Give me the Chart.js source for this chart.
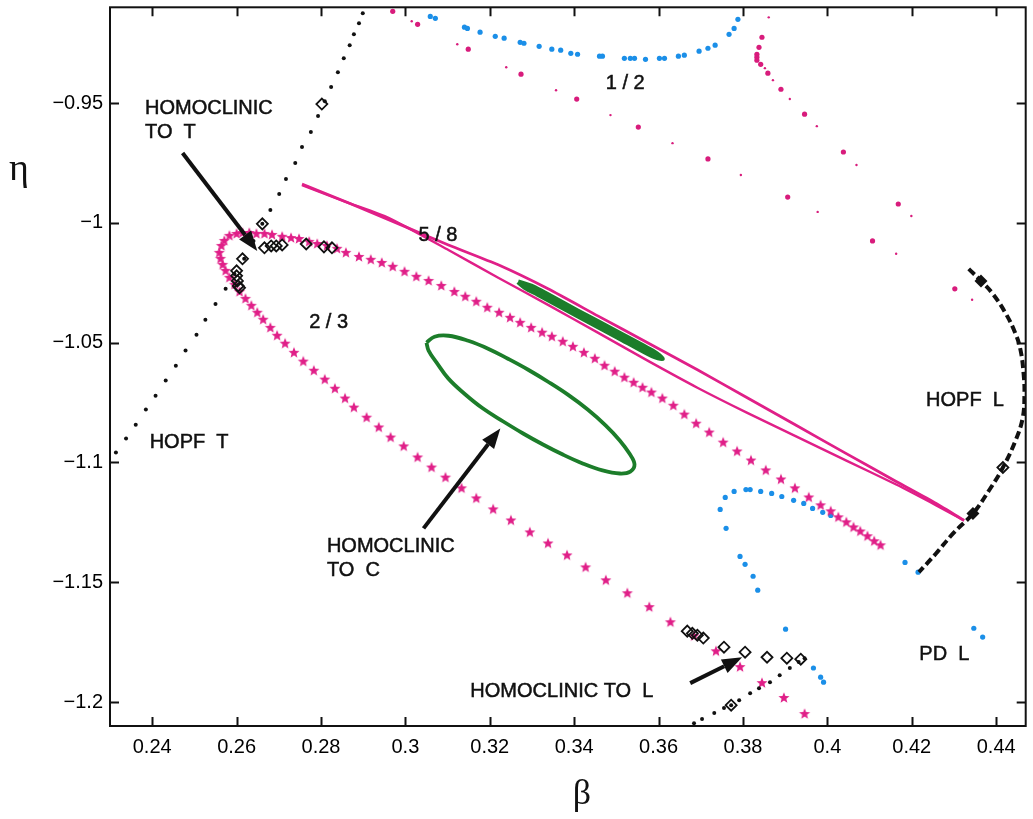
<!DOCTYPE html>
<html>
<head>
<meta charset="utf-8">
<title>Bifurcation diagram in the (β, η) plane</title>
<script src="https://cdn.jsdelivr.net/npm/chart.js@4.4.1/dist/chart.umd.min.js"></script>
<style>
  html, body { margin: 0; padding: 0; background: #ffffff; }
  #wrap { width: 1033px; height: 819px; }
</style>
</head>
<body>
<div id="wrap"><canvas id="c" width="1033" height="819"></canvas></div>
<script>
// ---- axis ticks ----
const xTicks = [0.24, 0.26, 0.28, 0.30, 0.32, 0.34, 0.36, 0.38, 0.40, 0.42, 0.44];
const xTickLabels = ['0.24', '0.26', '0.28', '0.3', '0.32', '0.34', '0.36', '0.38', '0.4', '0.42', '0.44'];
const yTicks = [-1.20, -1.15, -1.10, -1.05, -1.00, -0.95];
const yTickLabels = ['\u22121.2', '\u22121.15', '\u22121.1', '\u22121.05', '\u22121', '\u22120.95'];

// ---- Hopf curve of T (black dots) ----
const hopfTBeta = [0.2314, 0.2338, 0.2361, 0.2385, 0.2408, 0.2432, 0.2456, 0.2479, 0.2505, 0.2526,
  0.2550, 0.2574, 0.2595, 0.2618, 0.2640, 0.2661, 0.2680, 0.2701, 0.2717, 0.2739, 0.2755, 0.2776,
  0.2793, 0.2809, 0.2824, 0.2840, 0.2854, 0.2868, 0.2878, 0.2890, 0.2899];
const hopfTEta = [-1.0958, -1.0900, -1.0842, -1.0779, -1.0721, -1.0658, -1.0596, -1.0533, -1.0467, -1.0404,
  -1.0338, -1.0275, -1.0213, -1.0150, -1.0075, -1.0004, -0.9946, -0.9879, -0.9817, -0.9750, -0.9683, -0.9621,
  -0.9554, -0.9492, -0.9433, -0.9371, -0.9313, -0.9258, -0.9213, -0.9167, -0.9125];

// ---- Hopf curve of L (black dashed) ----
const hopfLBeta = [0.4335, 0.4364, 0.4392, 0.4423, 0.4446, 0.4458, 0.4465, 0.4467, 0.4463, 0.4446,
  0.4416, 0.4383, 0.4345, 0.4298, 0.4258, 0.4217];
const hopfLEta = [-1.0192, -1.0242, -1.0296, -1.0379, -1.0463, -1.0533, -1.0629, -1.0713, -1.0813, -1.0908,
  -1.1021, -1.1117, -1.1213, -1.1296, -1.1379, -1.1458];
const hopfLMarkBeta = [0.4364, 0.4345];
const hopfLMarkEta = [-1.0242, -1.1213];

// ---- homoclinic branch near L (black dots) ----
const homLBeta = [0.3684, 0.3703, 0.3732, 0.3755, 0.3772, 0.3791, 0.3817, 0.3838, 0.3864, 0.3887, 0.3911, 0.3932, 0.3946];
const homLEta = [-1.2088, -1.2071, -1.2046, -1.2025, -1.2013, -1.1992, -1.1963, -1.1942, -1.1917, -1.1888, -1.1858, -1.1833, -1.1817];

// ---- homoclinic points (open diamonds) ----
const diamondBeta = [0.2661, 0.2666, 0.2682, 0.2694, 0.2708, 0.2765, 0.2807, 0.2826, 0.2614, 0.2600,
  0.2600, 0.2602, 0.2604, 0.2607, 0.2802,
  0.3668, 0.3680, 0.3692, 0.3706, 0.3755, 0.3805, 0.3857, 0.3904, 0.3937, 0.3772, 0.4416];
const diamondEta = [-1.0004, -1.0104, -1.0096, -1.0096, -1.0092, -1.0088, -1.0100, -1.0104, -1.0150, -1.0200,
  -1.0221, -1.0242, -1.0263, -1.0271, -0.9504,
  -1.1704, -1.1713, -1.1721, -1.1733, -1.1771, -1.1792, -1.1813, -1.1817, -1.1821, -1.2013, -1.1021];

// ---- 2/3 resonance tongue (stars) ----
const loop23Beta = [0.4126, 0.4111, 0.4095, 0.4078, 0.4062, 0.4045, 0.4026, 0.4008, 0.3984, 0.3956,
  0.3923, 0.3890, 0.3854, 0.3819, 0.3786, 0.3753, 0.3720, 0.3689, 0.3661, 0.3635,
  0.3609, 0.3583, 0.3562, 0.3541, 0.3519, 0.3496, 0.3472, 0.3449, 0.3423, 0.3397,
  0.3373, 0.3347, 0.3324, 0.3298, 0.3272, 0.3248, 0.3222, 0.3194, 0.3168, 0.3142,
  0.3116, 0.3085, 0.3055, 0.3026, 0.2998, 0.2970, 0.2944, 0.2918, 0.2890, 0.2859,
  0.2838, 0.2814, 0.2791, 0.2772, 0.2748, 0.2729, 0.2708, 0.2684, 0.2666, 0.2647,
  0.2630, 0.2614, 0.2600, 0.2583, 0.2571, 0.2564, 0.2559, 0.2562, 0.2567, 0.2574,
  0.2583, 0.2595, 0.2607, 0.2621, 0.2635, 0.2649, 0.2663, 0.2680, 0.2696, 0.2715,
  0.2736, 0.2758, 0.2783, 0.2809, 0.2833, 0.2857, 0.2878, 0.2908, 0.2937, 0.2965,
  0.2996, 0.3029, 0.3062, 0.3095, 0.3133, 0.3168, 0.3208, 0.3250, 0.3295, 0.3338,
  0.3383, 0.3427, 0.3475, 0.3526, 0.3578, 0.3628, 0.3684, 0.3736, 0.3793, 0.3845,
  0.3897, 0.3946];
const loop23Eta = [-1.1346, -1.1329, -1.1308, -1.1288, -1.1271, -1.1250, -1.1229, -1.1204, -1.1179, -1.1146,
  -1.1108, -1.1071, -1.1033, -1.0992, -1.0954, -1.0917, -1.0875, -1.0838, -1.0800, -1.0763,
  -1.0733, -1.0708, -1.0688, -1.0667, -1.0646, -1.0621, -1.0596, -1.0567, -1.0542, -1.0517,
  -1.0496, -1.0475, -1.0458, -1.0438, -1.0417, -1.0396, -1.0375, -1.0354, -1.0329, -1.0308,
  -1.0288, -1.0263, -1.0242, -1.0225, -1.0204, -1.0183, -1.0167, -1.0154, -1.0142, -1.0125,
  -1.0108, -1.0096, -1.0088, -1.0079, -1.0067, -1.0063, -1.0058, -1.0050, -1.0046, -1.0046,
  -1.0042, -1.0042, -1.0046, -1.0054, -1.0075, -1.0096, -1.0125, -1.0150, -1.0175, -1.0200,
  -1.0229, -1.0258, -1.0288, -1.0317, -1.0346, -1.0375, -1.0404, -1.0438, -1.0471, -1.0504,
  -1.0542, -1.0579, -1.0617, -1.0654, -1.0692, -1.0733, -1.0771, -1.0813, -1.0854, -1.0896,
  -1.0933, -1.0979, -1.1021, -1.1063, -1.1108, -1.1150, -1.1196, -1.1242, -1.1292, -1.1338,
  -1.1388, -1.1438, -1.1492, -1.1546, -1.1604, -1.1667, -1.1725, -1.1788, -1.1854, -1.1921,
  -1.1983, -1.2050];

// ---- 5/8 resonance tongue (two boundaries) ----
const res58UpperBeta = [0.2755, 0.2866, 0.2984, 0.3102, 0.3220, 0.3338, 0.3456, 0.3574, 0.3692, 0.3809, 0.3927, 0.4045, 0.4163, 0.4258, 0.4324];
const res58UpperEta = [-0.9838, -0.9917, -1.0004, -1.0092, -1.0175, -1.0275, -1.0388, -1.0500, -1.0613, -1.0729, -1.0846, -1.0963, -1.1079, -1.1171, -1.1242];
const res58LowerBeta = [0.2755, 0.2866, 0.2960, 0.3102, 0.3220, 0.3338, 0.3456, 0.3574, 0.3692, 0.3809, 0.3927, 0.4045, 0.4163, 0.4258, 0.4324];
const res58LowerEta = [-0.9842, -0.9917, -0.9979, -1.0113, -1.0229, -1.0342, -1.0458, -1.0575, -1.0688, -1.0792, -1.0892, -1.0992, -1.1092, -1.1179, -1.1242];

// ---- 1/2 resonance (blue dots) ----
const res12Beta = [0.3059, 0.3071, 0.3140, 0.3147, 0.3177, 0.3213, 0.3234, 0.3272, 0.3281, 0.3317,
  0.3347, 0.3368, 0.3392, 0.3408, 0.3460, 0.3467, 0.3519, 0.3533, 0.3543, 0.3569,
  0.3602, 0.3614, 0.3647, 0.3661, 0.3696, 0.3717, 0.3734, 0.3767, 0.3779, 0.3788];
const res12Eta = [-0.9138, -0.9146, -0.9183, -0.9188, -0.9204, -0.9221, -0.9229, -0.9246, -0.9250, -0.9263,
  -0.9275, -0.9279, -0.9292, -0.9296, -0.9304, -0.9304, -0.9313, -0.9313, -0.9313, -0.9317,
  -0.9313, -0.9313, -0.9304, -0.9300, -0.9283, -0.9271, -0.9258, -0.9213, -0.9188, -0.9150];

// ---- period-doubling of L (blue dots) ----
const pdLBeta = [0.4008, 0.3989, 0.3965, 0.3944, 0.3920, 0.3892, 0.3868, 0.3842, 0.3817, 0.3807,
  0.3779, 0.3758, 0.3746, 0.3760, 0.3793, 0.3805, 0.3824, 0.3835, 0.3901, 0.3967,
  0.3984, 0.3991, 0.4184, 0.4215, 0.4347, 0.4368];
const pdLEta = [-1.1221, -1.1208, -1.1192, -1.1171, -1.1158, -1.1142, -1.1129, -1.1121, -1.1113, -1.1113,
  -1.1121, -1.1146, -1.1196, -1.1275, -1.1392, -1.1425, -1.1475, -1.1533, -1.1696, -1.1858,
  -1.1896, -1.1917, -1.1417, -1.1458, -1.1692, -1.1729];

// ---- 1/2 resonance (magenta dots, large and small) ----
const pinkBigBeta = [0.2970, 0.3029, 0.3149, 0.3274, 0.3406, 0.3552, 0.3717, 0.3906, 0.4107, 0.4302,
  0.3845, 0.3838, 0.3833, 0.3833, 0.3833, 0.3842, 0.3859, 0.3890, 0.3946, 0.4038, 0.4168];
const pinkBigEta = [-0.9117, -0.9171, -0.9275, -0.9379, -0.9483, -0.9600, -0.9733, -0.9892, -1.0075, -1.0275,
  -0.9225, -0.9267, -0.9296, -0.9308, -0.9321, -0.9338, -0.9375, -0.9442, -0.9546, -0.9704, -0.9921];
const pinkSmallBeta = [0.3015, 0.3123, 0.3239, 0.3357, 0.3486, 0.3633, 0.3795, 0.3977, 0.4163, 0.4343,
  0.3861, 0.3852, 0.3871, 0.3911, 0.3975, 0.4069, 0.4199];
const pinkSmallEta = [-0.9158, -0.9254, -0.9350, -0.9446, -0.9550, -0.9667, -0.9800, -0.9954, -1.0129, -1.0321,
  -0.9142, -0.9354, -0.9404, -0.9483, -0.9596, -0.9758, -0.9971];

// ---- homoclinic orbit to C (green closed curves) ----
const homCBeta = [0.3050, 0.3069, 0.3102, 0.3149, 0.3196, 0.3243, 0.3291, 0.3338, 0.3385, 0.3432,
  0.3475, 0.3508, 0.3531, 0.3543, 0.3533, 0.3508, 0.3467, 0.3420, 0.3373, 0.3326,
  0.3279, 0.3232, 0.3184, 0.3140, 0.3102, 0.3074, 0.3055, 0.3050];
const homCEta = [-1.0500, -1.0475, -1.0471, -1.0492, -1.0525, -1.0567, -1.0613, -1.0663, -1.0717, -1.0779,
  -1.0846, -1.0908, -1.0963, -1.1008, -1.1038, -1.1046, -1.1033, -1.1004, -1.0967, -1.0925,
  -1.0879, -1.0829, -1.0775, -1.0713, -1.0650, -1.0583, -1.0533, -1.0500];
const homCThinBeta = [0.3267, 0.3302, 0.3408, 0.3503, 0.3590, 0.3609, 0.3585, 0.3503, 0.3408, 0.3314, 0.3283, 0.3267];
const homCThinEta = [-1.0246, -1.0266, -1.0367, -1.0456, -1.0539, -1.0567, -1.0555, -1.0477, -1.0388, -1.0298, -1.0269, -1.0246];

// ---- annotations ----
const noteText = ['HOMOCLINIC', 'TO  T', '2 / 3', '5 / 8', '1 / 2', 'HOPF  T', 'HOMOCLINIC', 'TO  C', 'HOMOCLINIC TO  L', 'HOPF  L', 'PD  L'];
const noteBeta = [0.2383, 0.2383, 0.2772, 0.3031, 0.3475, 0.2394, 0.2814, 0.2814, 0.3154, 0.4234, 0.4218];
const noteEta = [-0.9546, -0.9646, -1.0438, -1.0075, -0.9442, -1.0938, -1.1375, -1.1475, -1.1979, -1.0763, -1.1825];
const arrowFromBeta = [0.2472, 0.3043, 0.3675];
const arrowFromEta = [-0.9708, -1.1275, -1.1921];
const arrowToBeta = [0.2649, 0.3225, 0.3798];
const arrowToEta = [-1.0117, -1.0858, -1.1813];

const zip = (xs, ys) => xs.map((v, i) => ({ x: v, y: ys[i] }));

const MAGENTA = '#e01f88';
const PINK_DOT = '#d81c7c';
const BLUE = '#1b8fe8';
const GREEN = '#1c7d2a';
const SANS = '"Liberation Sans", Arial, Helvetica, sans-serif';
const SERIF = '"Liberation Serif", "DejaVu Serif", Times, serif';

// filled five-pointed star used as point marker
function makeStar(color, outer, inner) {
  const size = Math.ceil(outer * 2 + 2);
  const cv = document.createElement('canvas');
  cv.width = size; cv.height = size;
  const g = cv.getContext('2d');
  g.fillStyle = color;
  g.beginPath();
  for (let k = 0; k < 10; k++) {
    const r = k % 2 === 0 ? outer : inner;
    const a = -Math.PI / 2 + k * Math.PI / 5;
    const px = size / 2 + r * Math.cos(a);
    const py = size / 2 + r * Math.sin(a);
    if (k === 0) g.moveTo(px, py); else g.lineTo(px, py);
  }
  g.closePath();
  g.fill();
  return cv;
}
const starMarker = makeStar(MAGENTA, 5.8, 2.5);

// frame, inward ticks, arrows, notes and axis symbols
const decorations = {
  id: 'decorations',
  afterDatasetsDraw(chart) {
    const { ctx, chartArea: a, scales: { x, y } } = chart;
    ctx.save();
    ctx.strokeStyle = '#111';
    ctx.lineWidth = 2;
    ctx.strokeRect(a.left, a.top, a.right - a.left, a.bottom - a.top);
    const tl = 9;
    ctx.beginPath();
    xTicks.forEach(v => {
      const px = Math.round(x.getPixelForValue(v)) + 0.5;
      ctx.moveTo(px, a.bottom); ctx.lineTo(px, a.bottom - tl);
      ctx.moveTo(px, a.top); ctx.lineTo(px, a.top + tl);
    });
    yTicks.forEach(v => {
      const py = Math.round(y.getPixelForValue(v)) + 0.5;
      ctx.moveTo(a.left, py); ctx.lineTo(a.left + tl, py);
      ctx.moveTo(a.right, py); ctx.lineTo(a.right - tl, py);
    });
    ctx.stroke();

    // arrows
    ctx.fillStyle = '#111';
    ctx.lineWidth = 4;
    arrowFromBeta.forEach((b, i) => {
      const x0 = x.getPixelForValue(b), y0 = y.getPixelForValue(arrowFromEta[i]);
      const x1 = x.getPixelForValue(arrowToBeta[i]), y1 = y.getPixelForValue(arrowToEta[i]);
      const ang = Math.atan2(y1 - y0, x1 - x0);
      const hl = 20, hw = 7.5;
      const bx = x1 - hl * Math.cos(ang), by = y1 - hl * Math.sin(ang);
      ctx.beginPath();
      ctx.moveTo(x0, y0); ctx.lineTo(bx, by);
      ctx.stroke();
      ctx.beginPath();
      ctx.moveTo(x1, y1);
      ctx.lineTo(bx + hw * Math.sin(ang), by - hw * Math.cos(ang));
      ctx.lineTo(bx - hw * Math.sin(ang), by + hw * Math.cos(ang));
      ctx.closePath();
      ctx.fill();
    });

    // notes
    ctx.font = '20px ' + SANS;
    ctx.textAlign = 'left';
    ctx.textBaseline = 'alphabetic';
    ctx.lineWidth = 0.5;
    noteText.forEach((t, i) => {
      const px = x.getPixelForValue(noteBeta[i]), py = y.getPixelForValue(noteEta[i]);
      ctx.fillText(t, px, py);
      ctx.strokeText(t, px, py);
    });

    // axis symbols
    ctx.font = '38px ' + SERIF;
    ctx.textAlign = 'center';
    ctx.fillText('\u03B7', 19, 180);
    ctx.font = '36px ' + SERIF;
    ctx.fillText('\u03B2', 582, 804);
    ctx.restore();
  }
};

const dotSet = (data, color, r) => ({
  data, showLine: false, pointStyle: 'circle', pointRadius: r, pointHoverRadius: r,
  pointBackgroundColor: color, pointBorderColor: color, pointBorderWidth: 0
});
const lineSet = (data, color, w, dash, tension) => ({
  data, showLine: true, pointRadius: 0, pointHoverRadius: 0, borderColor: color,
  borderWidth: w, borderDash: dash || [], tension: tension || 0, fill: false
});

new Chart(document.getElementById('c'), {
  type: 'scatter',
  data: {
    datasets: [
      Object.assign(dotSet(zip(diamondBeta, diamondEta), '#111', 5.5), {
        pointStyle: 'rectRot', pointBackgroundColor: 'rgba(255,255,255,0)', pointBorderWidth: 1.8, order: 0
      }),
      Object.assign(dotSet(zip(hopfLMarkBeta, hopfLMarkEta), '#111', 6.5), { pointStyle: 'rectRot', order: 0 }),
      Object.assign(dotSet(zip(hopfTBeta, hopfTEta), '#111', 2), { order: 1 }),
      Object.assign(dotSet(zip(homLBeta, homLEta), '#111', 2), { order: 1 }),
      Object.assign(lineSet(zip(hopfLBeta, hopfLEta), '#111', 4, [8, 4], 0.4), { order: 1 }),
      Object.assign(dotSet(zip(loop23Beta, loop23Eta), MAGENTA, 5.8), { pointStyle: starMarker, order: 2 }),
      Object.assign(lineSet(zip(res58UpperBeta, res58UpperEta), MAGENTA, 2.8, [], 0.2), { order: 3 }),
      Object.assign(lineSet(zip(res58LowerBeta, res58LowerEta), MAGENTA, 2.4, [], 0.2), { order: 3 }),
      Object.assign(lineSet(zip(homCThinBeta, homCThinEta), GREEN, 5, [], 0.25), { order: 4 }),
      Object.assign(lineSet(zip(homCBeta, homCEta), GREEN, 3.8, [], 0.4), { order: 4 }),
      Object.assign(dotSet(zip(res12Beta, res12Eta), BLUE, 2.6), { order: 5 }),
      Object.assign(dotSet(zip(pdLBeta, pdLEta), BLUE, 2.6), { order: 5 }),
      Object.assign(dotSet(zip(pinkBigBeta, pinkBigEta), PINK_DOT, 2.6), { order: 5 }),
      Object.assign(dotSet(zip(pinkSmallBeta, pinkSmallEta), PINK_DOT, 1.2), { order: 5 })
    ]
  },
  options: {
    responsive: false,
    animation: false,
    devicePixelRatio: 1,
    layout: { padding: { top: 6, right: 3, left: 0, bottom: 0 } },
    plugins: { legend: { display: false }, tooltip: { enabled: false } },
    events: [],
    scales: {
      x: {
        type: 'linear', min: 0.23, max: 0.447,
        afterBuildTicks: s => { s.ticks = xTicks.map(v => ({ value: v })); },
        afterFit: s => { s.height = 93; s.paddingLeft = 0; s.paddingRight = 0; },
        ticks: {
          callback: (v, i) => xTickLabels[i], autoSkip: false, maxRotation: 0,
          color: '#000', padding: 9, font: { family: SANS, size: 20 }
        },
        grid: { display: false, drawTicks: false },
        border: { display: false }
      },
      y: {
        type: 'linear', min: -1.21, max: -0.91,
        afterBuildTicks: s => { s.ticks = yTicks.map(v => ({ value: v })); },
        afterFit: s => { s.width = 110; s.paddingTop = 0; s.paddingBottom = 0; },
        ticks: {
          callback: (v, i) => yTickLabels[i], autoSkip: false,
          color: '#000', padding: 7, font: { family: SANS, size: 20 }
        },
        grid: { display: false, drawTicks: false },
        border: { display: false }
      }
    }
  },
  plugins: [decorations]
});
</script>
</body>
</html>
